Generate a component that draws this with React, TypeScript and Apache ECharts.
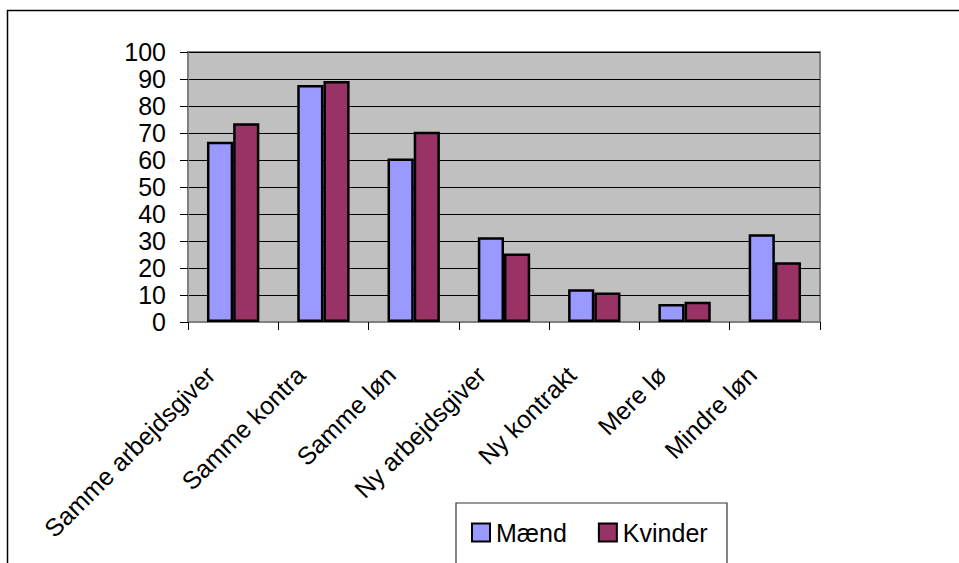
import React, { useEffect, useRef } from "react";
import * as echarts from "echarts";

const categories = [
  "Samme arbejdsgiver",
  "Samme kontrakt",
  "Samme løn",
  "Ny arbejdsgiver",
  "Ny kontrakt",
  "Mere løn",
  "Mindre løn",
];
const maend = [66.8, 87.8, 60.6, 31.4, 12.1, 6.7, 32.5];
const kvinder = [73.6, 89.3, 70.5, 25.4, 10.9, 7.5, 22.1];
const seriesNames = ["Mænd", "Kvinder"];
// labels clipped in the original picture
const clippedWidths: Record<string, number> = { "Samme kontrakt": 170, "Mere løn": 90 };

const FONT = "'Liberation Sans', Arial, sans-serif";
const FS = 25;

export default function App() {
  const ref = useRef<HTMLDivElement>(null);
  useEffect(() => {
    if (!ref.current) return;
    const chart = echarts.init(ref.current, null, { renderer: "svg" });
    chart.setOption({
      animation: false,
      backgroundColor: "#ffffff",
      textStyle: { fontFamily: FONT },
      grid: {
        left: 188,
        top: 52,
        right: 139,
        bottom: 241,
        show: true,
        backgroundColor: "#C0C0C0",
        borderColor: "#808080",
        borderWidth: 2,
      },
      legend: {
        left: 471,
        top: 520,
        padding: 0,
        itemWidth: 18,
        itemHeight: 18,
        itemGap: 31,
        icon: "rect",
        textStyle: { fontFamily: FONT, fontSize: FS, color: "#000", padding: [0, 0, 0, 1] },
        data: seriesNames,
      },
      xAxis: {
        type: "category",
        data: categories.map((c) =>
          clippedWidths[c]
            ? { value: c, textStyle: { width: clippedWidths[c], overflow: "truncate", ellipsis: "" } }
            : c
        ),
        axisLine: { show: true, lineStyle: { color: "#808080", width: 2 } },
        axisTick: { show: true, length: 8, inside: false, lineStyle: { color: "#000" } },
        axisLabel: {
          interval: 0,
          rotate: 45,
          margin: 26,
          padding: [0, 32, 0, 0],
          fontFamily: FONT,
          fontSize: FS,
          color: "#000",
        },
        splitLine: { show: false },
      },
      yAxis: {
        type: "value",
        min: 0,
        max: 100,
        interval: 10,
        axisLine: { show: true, lineStyle: { color: "#808080", width: 2 } },
        axisTick: { show: true, length: 8, inside: false, lineStyle: { color: "#000" } },
        axisLabel: { margin: 22, fontFamily: FONT, fontSize: FS, color: "#000" },
        splitLine: { show: true, lineStyle: { color: "#000", width: 1 } },
      },
      series: [
        {
          name: seriesNames[0],
          type: "bar",
          data: maend,
          barGap: "0%",
          barCategoryGap: "42%",
          itemStyle: { color: "#9999FF", borderColor: "#000", borderWidth: 2.5 },
        },
        {
          name: seriesNames[1],
          type: "bar",
          data: kvinder,
          barGap: "0%",
          barCategoryGap: "42%",
          itemStyle: { color: "#993366", borderColor: "#000", borderWidth: 2.5 },
        },
      ],
      graphic: [
        {
          type: "rect",
          shape: { x: 7.5, y: 10.5, width: 1000, height: 700 },
          style: { fill: "none", stroke: "#000", lineWidth: 1.5 },
          z: -1,
        },
        {
          type: "rect",
          shape: { x: 456, y: 503, width: 271, height: 100 },
          style: { fill: "none", stroke: "#333", lineWidth: 1.2 },
          z: 10,
        },
      ],
    });
    return () => chart.dispose();
  }, []);
  return (
    <div
      ref={ref}
      style={{ position: "fixed", left: 0, top: 0, width: 959, height: 563 }}
    />
  );
}
